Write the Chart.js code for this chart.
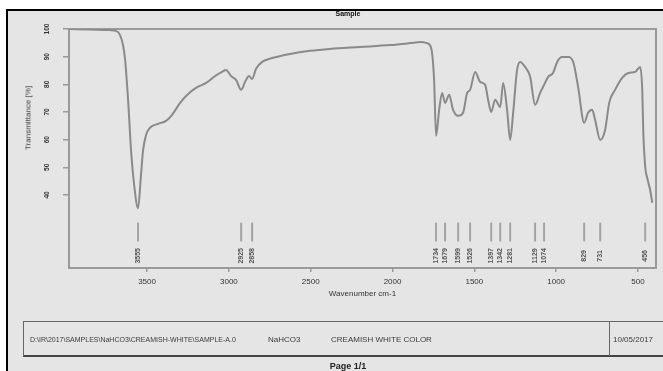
<!DOCTYPE html>
<html>
<head>
<meta charset="utf-8">
<script src="https://cdn.jsdelivr.net/npm/chart.js@4.4.0/dist/chart.umd.min.js"></script>
<style>
  html, body { margin: 0; padding: 0; width: 663px; height: 371px; overflow: hidden; background: #fff;
               font-family: "Liberation Sans", Arial, sans-serif; }
  #sheet { position: absolute; left: 6px; top: 9px; width: 670px; height: 380px; background: #e5e5e5;
           border-top: 2px solid #000; border-left: 2px solid #000; }
  #chart { position: absolute; left: 0; top: 0; }
  .txt { position: absolute; white-space: nowrap; color: #3a3a3a; }
  #title { left: 348px; top: 10px; transform: translateX(-50%); font-size: 7px; font-weight: bold; color: #111; }
  #ytitle { left: 28px; top: 118px; transform: translate(-50%, -50%) rotate(-90deg); font-size: 8px; }
  #info { position: absolute; left: 23px; top: 321px; width: 660px; height: 33px;
          border: 1.5px solid #666; border-bottom: 2.5px solid #444; }
  #divider { position: absolute; left: 609px; top: 321px; width: 0; height: 35px; border-left: 1.5px solid #666; }
  .cell { top: 335px; font-size: 7px; line-height: 9px; }
  #page { left: 348px; top: 361px; transform: translateX(-50%); font-size: 9px; font-weight: bold; color: #222; }
</style>
</head>
<body>
<div id="sheet"></div>
<canvas id="chart" width="663" height="371"></canvas>
<div class="txt" id="title">Sample</div>
<div class="txt" id="ytitle">Transmittance [%]</div>
<div id="info"></div>
<div id="divider"></div>
<div class="txt cell" style="left:30px">D:\IR\2017\SAMPLES\NaHCO3\CREAMISH-WHITE\SAMPLE-A.0</div>
<div class="txt cell" style="left:268px; font-size:8px">NaHCO3</div>
<div class="txt cell" style="left:331px; font-size:8px">CREAMISH WHITE COLOR</div>
<div class="txt cell" style="left:613px; font-size:8px">10/05/2017</div>
<div class="txt" id="page">Page 1/1</div>

<script>
// IR spectrum: wavenumber (cm-1) and transmittance (%)
const wavenumbers = [
  3977, 3848, 3726, 3689, 3665, 3647, 3634, 3616, 3598, 3579, 3555, 3537, 3524, 3506, 3482,
  3433, 3384, 3347, 3298, 3249, 3201, 3139, 3084, 3042, 3017, 2987, 2956, 2925, 2901, 2877,
  2858, 2834, 2797, 2736, 2626, 2504, 2382, 2198, 2015, 1893, 1831, 1789, 1764, 1746, 1734,
  1715, 1697, 1679, 1654, 1630, 1599, 1569, 1544, 1526, 1495, 1465, 1434, 1416, 1397, 1373,
  1342, 1324, 1300, 1281, 1263, 1239, 1220, 1190, 1159, 1129, 1098, 1074, 1049, 1019, 994,
  964, 927, 896, 866, 829, 805, 780, 762, 731, 701, 676, 640, 597, 560, 517,
  487, 474, 468, 456, 444, 426, 413
];
const transmittance = [
  100.0, 99.8, 99.6, 99.3, 97.8, 94.2, 88.8, 74.4, 56.3, 43.7, 35.2, 47.3, 56.3, 61.7, 64.3,
  65.7, 66.8, 69.0, 73.3, 76.5, 78.7, 80.5, 83.0, 84.5, 85.2, 83.0, 81.6, 78.0, 80.9, 83.0,
  81.9, 85.6, 88.1, 89.5, 91.0, 92.1, 92.8, 93.5, 94.2, 94.9, 95.3, 94.9, 93.1, 81.6, 61.4,
  70.8, 76.9, 73.3, 76.2, 70.8, 68.6, 69.7, 76.9, 78.0, 84.5, 80.9, 79.8, 74.4, 70.0, 74.4,
  71.8, 80.5, 70.8, 59.9, 69.7, 85.2, 88.1, 86.3, 82.7, 72.6, 76.9, 79.8, 82.7, 84.1, 88.1,
  89.9, 89.9, 88.1, 79.1, 66.1, 69.7, 70.8, 67.1, 59.9, 63.5, 73.3, 78.0, 82.3, 84.1, 84.5,
  86.3, 78.0, 63.5, 50.2, 46.2, 41.9, 37.2
];

// Picked peaks (cm-1)
const peakPositions = [3555, 2925, 2858, 1734, 1679, 1599, 1526, 1397, 1342, 1281, 1129, 1074, 829, 731, 456];

// Axis ticks
const xTicks = [3500, 3000, 2500, 2000, 1500, 1000, 500];
const yTicks = [100, 90, 80, 70, 60, 50, 40];

const spectrum = wavenumbers.map((w, i) => ({ x: w, y: transmittance[i] }));

// frame around the plotting area
const plotFrame = {
  id: 'plotFrame',
  beforeDatasetsDraw(chart) {
    const { ctx, chartArea: a } = chart;
    ctx.save();
    ctx.strokeStyle = '#9a9a9a';
    ctx.lineWidth = 2;
    ctx.strokeRect(a.left, a.top, a.right - a.left, a.bottom - a.top);
    ctx.restore();
  }
};

// peak ticks with their wavenumbers beneath the spectrum
const peakMarks = {
  id: 'peakMarks',
  afterDatasetsDraw(chart) {
    const { ctx, scales: { x, y } } = chart;
    const yTop = y.getPixelForValue(30), yBot = y.getPixelForValue(23.2), yLab = y.getPixelForValue(18.0);
    ctx.save();
    peakPositions.forEach(wn => {
      const px = x.getPixelForValue(wn);
      ctx.strokeStyle = '#a3a3a3';
      ctx.lineWidth = 2;
      ctx.beginPath();
      ctx.moveTo(px, yTop);
      ctx.lineTo(px, yBot);
      ctx.stroke();
      ctx.save();
      ctx.translate(px, yLab);
      ctx.rotate(-Math.PI / 2);
      ctx.fillStyle = '#555';
      ctx.font = 'bold 7px "Liberation Sans", Arial, sans-serif';
      ctx.textAlign = 'center';
      ctx.textBaseline = 'middle';
      ctx.fillText(String(wn), 0, 0);
      ctx.restore();
    });
    ctx.restore();
  }
};

new Chart(document.getElementById('chart'), {
  type: 'line',
  data: {
    datasets: [{
      data: spectrum,
      borderColor: '#8a8a8a',
      borderWidth: 2,
      pointRadius: 0,
      cubicInterpolationMode: 'monotone',
      fill: false
    }]
  },
  options: {
    responsive: false,
    animation: false,
    devicePixelRatio: 1,
    layout: { padding: { left: 9, top: 29, right: 7, bottom: 71 } },
    plugins: { legend: { display: false }, tooltip: { enabled: false }, title: { display: false } },
    scales: {
      x: {
        type: 'linear',
        reverse: true,
        min: 390,
        max: 3977,
        afterBuildTicks: s => { s.ticks = xTicks.map(v => ({ value: v })); },
        afterFit: s => { s.height = 32; },
        border: { display: false },
        grid: { drawOnChartArea: false, drawTicks: true, tickLength: 4, color: '#999', lineWidth: 1.5 },
        ticks: { minRotation: 0, maxRotation: 0, autoSkip: false, padding: 5, color: '#333',
                 font: { size: 8, family: '"Liberation Sans", Arial, sans-serif' }, callback: v => String(v) },
        title: { display: true, text: 'Wavenumber cm-1', color: '#333', padding: { top: 2, bottom: 1 },
                 font: { size: 8, family: '"Liberation Sans", Arial, sans-serif' } }
      },
      y: {
        type: 'linear',
        min: 13.6,
        max: 100,
        afterBuildTicks: s => { s.ticks = yTicks.map(v => ({ value: v })); },
        afterFit: s => { s.width = 60; },
        border: { display: false },
        grid: { drawOnChartArea: false, drawTicks: true, tickLength: 6, color: '#999', lineWidth: 1.5 },
        ticks: { minRotation: 90, maxRotation: 90, crossAlign: 'center', padding: 10, color: '#333', autoSkip: false,
                 font: { size: 6.5, weight: 'bold', family: '"Liberation Sans", Arial, sans-serif' }, callback: v => String(v) }
      }
    }
  },
  plugins: [plotFrame, peakMarks]
});
</script>
</body>
</html>
